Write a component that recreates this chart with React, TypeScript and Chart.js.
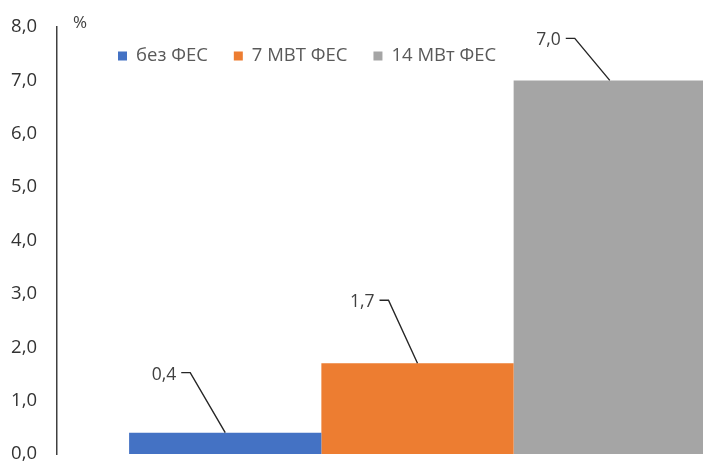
import React, { useEffect, useRef } from 'react';
import { Chart, registerables } from 'chart.js';

Chart.register(...registerables);

// Single group, three scenarios
const categories = [''];
const seriesNames = ['без ФЕС', '7 МВТ ФЕС', '14 МВт ФЕС'];
const seriesValues = [0.4, 1.7, 7.0];
const seriesColors = ['#4472C4', '#ED7D31', '#A5A5A5'];
const axisUnit = '%';
const yMin = 0;
const yMax = 8;
const yStep = 1;

// Leader-line placement for each value label (relative to the bar's top centre)
const labelPlacement = [
  { dx: -44, rise: 60 },
  { dx: -38, rise: 63 },
  { dx: -44, rise: 42 },
];

const FONT = "'Open Sans', sans-serif";
const fmt = (v: number) => v.toFixed(1).replace('.', ',');

const legendPlugin = {
  id: 'topLegend',
  afterDraw(chart: any) {
    const { ctx } = chart;
    ctx.save();
    ctx.font = `18.5px ${FONT}`;
    ctx.textBaseline = 'middle';
    ctx.textAlign = 'left';
    let x = 118;
    const y = 56;
    chart.data.datasets.forEach((ds: any) => {
      ctx.fillStyle = ds.backgroundColor;
      ctx.fillRect(x, y - 4.5, 9, 9);
      ctx.fillStyle = '#595959';
      ctx.fillText(ds.label, x + 18, y);
      x += 18 + ctx.measureText(ds.label).width + 26;
    });
    // unit caption next to the value axis
    ctx.fillStyle = '#404040';
    ctx.font = `17px ${FONT}`;
    ctx.fillText(axisUnit, 73, 23);
    ctx.restore();
  },
};

const valueLabelPlugin = {
  id: 'valueLabels',
  afterDatasetsDraw(chart: any) {
    const { ctx } = chart;
    ctx.save();
    ctx.font = `17.5px ${FONT}`;
    ctx.textBaseline = 'middle';
    ctx.textAlign = 'right';
    chart.data.datasets.forEach((ds: any, i: number) => {
      const bar = chart.getDatasetMeta(i).data[0];
      if (!bar) return;
      const p = labelPlacement[i];
      const ly = bar.y - p.rise;
      const sx = bar.x + p.dx;
      ctx.strokeStyle = '#262626';
      ctx.lineWidth = 1.4;
      ctx.beginPath();
      ctx.moveTo(sx, ly);
      ctx.lineTo(sx + 9, ly);
      ctx.lineTo(bar.x, bar.y);
      ctx.stroke();
      ctx.fillStyle = '#404040';
      ctx.fillText(fmt(ds.data[0]), sx - 5, ly + 2);
    });
    ctx.restore();
  },
};

export default function App() {
  const canvasRef = useRef<HTMLCanvasElement | null>(null);

  useEffect(() => {
    if (!canvasRef.current) return;
    const chart = new Chart(canvasRef.current, {
      type: 'bar',
      data: {
        labels: categories,
        datasets: seriesNames.map((name, i) => ({
          label: name,
          data: [seriesValues[i]],
          backgroundColor: seriesColors[i],
          borderWidth: 0,
          barPercentage: 1,
          categoryPercentage: 0.8,
        })),
      },
      options: {
        animation: false,
        responsive: false,
        layout: { padding: { top: 27, bottom: 9, left: 0, right: 0 } },
        plugins: {
          legend: { display: false },
          tooltip: { enabled: false },
        },
        scales: {
          x: { display: false },
          y: {
            min: yMin,
            max: yMax,
            grid: { display: false, drawTicks: false },
            border: { display: true, color: '#404040', width: 1.5 },
            ticks: {
              stepSize: yStep,
              padding: 20,
              color: '#333333',
              font: { family: FONT, size: 18.5 },
              callback: (v: any) => fmt(Number(v)),
            },
            afterFit(scale: any) {
              scale.width = 57;
              scale.paddingTop = 0;
              scale.paddingBottom = 0;
            },
          },
        },
      },
      plugins: [valueLabelPlugin, legendPlugin],
    });
    return () => chart.destroy();
  }, []);

  return (
    <div
      style={{
        position: 'fixed',
        left: 0,
        top: 0,
        width: 703,
        height: 463,
        overflow: 'hidden',
        background: '#ffffff',
      }}
    >
      <canvas ref={canvasRef} width={778} height={463} style={{ display: 'block' }} />
    </div>
  );
}
